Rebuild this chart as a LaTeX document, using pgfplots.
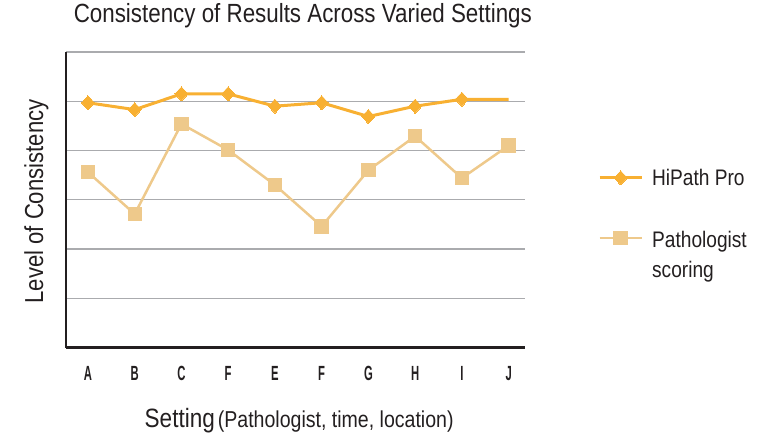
\documentclass[border=0pt]{standalone}
\usepackage{fontspec}
\setmainfont{Liberation Sans}[FakeStretch=0.85]
\newfontfamily\tickfont{Liberation Sans}[FakeStretch=0.55]
\usepackage{pgfplots}
\usepackage{pgfplotstable}
\pgfplotsset{compat=1.18}
\definecolor{hipath}{HTML}{F8B032}
\definecolor{patho}{HTML}{EEC98B}
\definecolor{gridgray}{HTML}{AAABAE}
\definecolor{axisblack}{HTML}{231F20}
\definecolor{txt}{HTML}{231F20}

\pgfplotstableread{
x hipath patho
0 4.97 3.56
1 4.83 2.71
2 5.15 4.54
3 5.15 4.01
4 4.90 3.30
5 4.97 2.46
6 4.69 3.60
7 4.90 4.29
8 5.04 3.44
9 5.04 4.10
}\datatable

\begin{document}
\begin{tikzpicture}
\begin{axis}[
  name=ax,
  scale only axis,
  width=459pt, height=295.5pt,
  xmin=-0.47, xmax=9.35, ymin=0, ymax=6,
  axis x line*=bottom, axis y line*=left,
  axis line style={color=axisblack, line width=2.5pt, -},
  xtick={0,...,9},
  xticklabels={A,B,C,F,E,F,G,H,I,J},
  ytick={0,...,6}, yticklabels={},
  major tick length=0pt,
  ymajorgrids,
  grid style={color=gridgray, line width=1.4pt},
  x tick label style={font=\tickfont\bfseries\fontsize{20.5}{20}\selectfont, text=txt, anchor=base, yshift=-32.5pt},
  title={Consistency of Results Across Varied Settings},
  title style={font=\fontsize{26.3}{30}\selectfont, text=txt, at={(rel axis cs:0.516,1)}, anchor=base, yshift=24pt},
  xlabel={{\fontsize{26.5}{30}\selectfont Setting}\hspace{3pt}{\fontsize{23}{30}\selectfont (Pathologist, time, location)}},
  xlabel style={text=txt, at={(rel axis cs:0.508,0)}, anchor=base, yshift=-79.5pt},
  ylabel={Level of Consistency},
  ylabel style={font=\fontsize{26}{28}\selectfont, text=txt, at={(rel axis cs:-0.0501,0.494)}, anchor=base, rotate=0},
  legend style={at={(rel axis cs:1.159,0.605)}, anchor=north west, draw=none, fill=none,
    font=\fontsize{22.5}{30}\selectfont, text=txt, row sep=40pt, inner sep=0pt,
    nodes={inner sep=0pt}},
  legend cell align=left,
  legend image code/.code={%
    \draw[#1, mark indices={2}] plot coordinates {(0pt,0pt) (21pt,0pt) (42pt,0pt)};},
  every axis legend/.append style={column sep=9pt},
  clip=false,
]
\addplot[color=hipath, line width=3pt, mark=diamond*, mark size=7pt,
  mark options={solid, fill=hipath, xscale=1.25, line width=0pt}, mark indices={1,...,9}]
  table[x=x, y=hipath] {\datatable};
\addlegendentry{HiPath Pro}
\addplot[color=patho, line width=2.5pt, mark=square*, mark size=6.7pt,
  mark options={solid, fill=patho, line width=0pt}]
  table[x=x, y=patho] {\datatable};
\addlegendentry{\begin{tabular}[t]{@{}l@{}}Pathologist\\scoring\end{tabular}}
\end{axis}
\pgfresetboundingbox
\path ([shift={(-66pt,-86.5pt)}]ax.south west) rectangle ++(766pt,434pt);
\end{tikzpicture}
\end{document}
